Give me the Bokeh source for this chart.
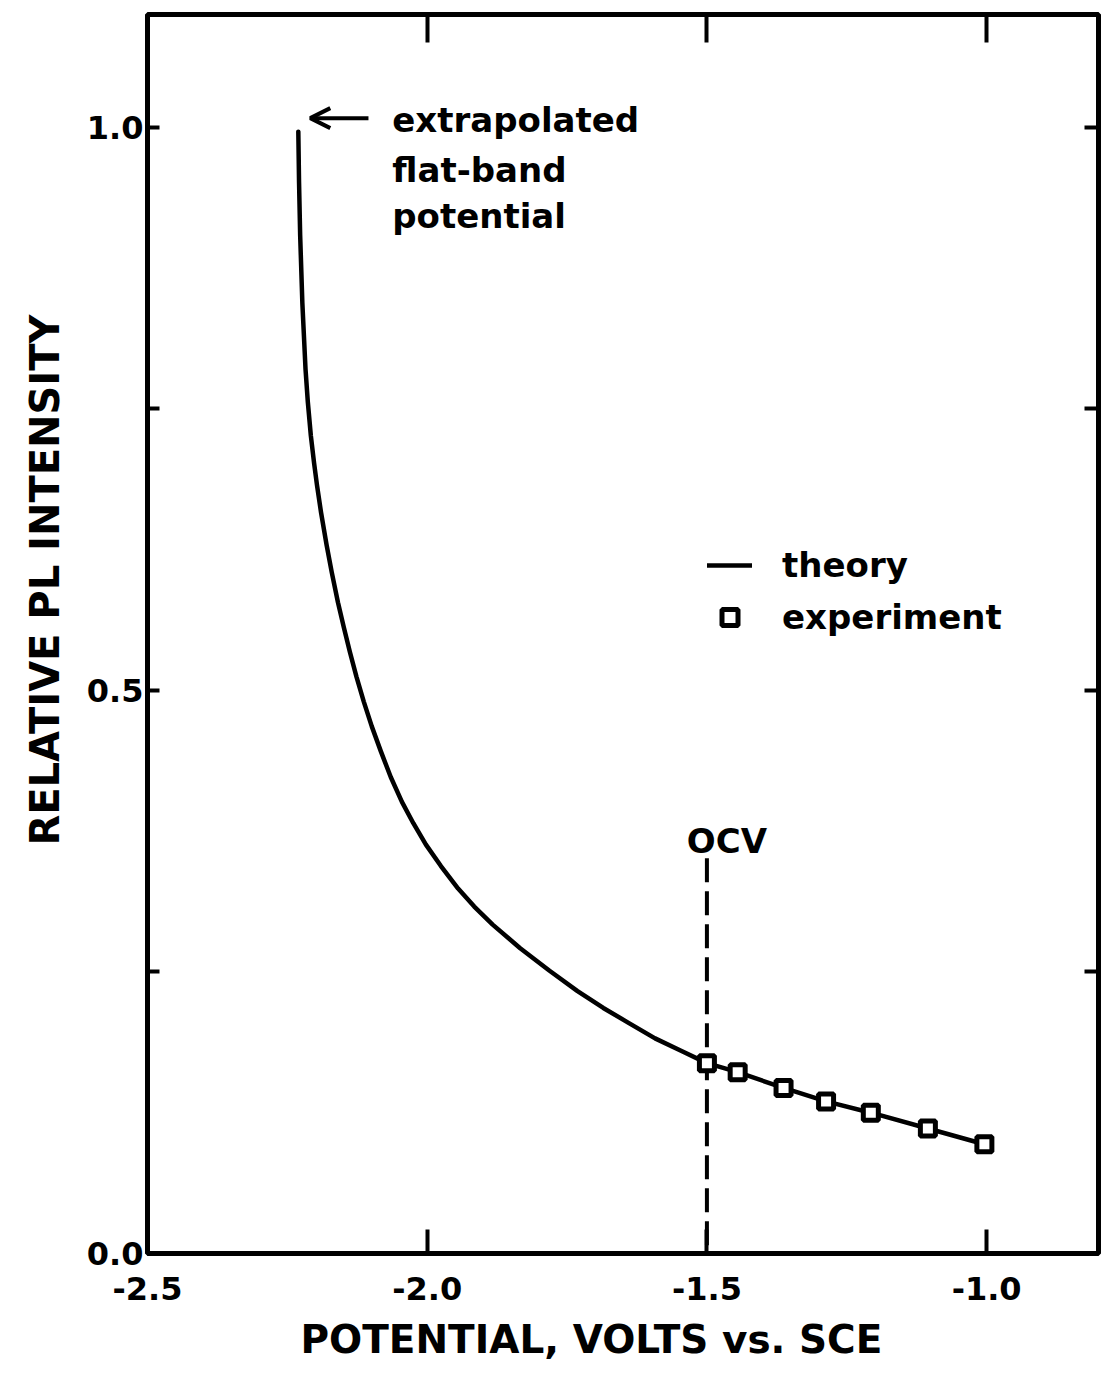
from bokeh.plotting import figure
from bokeh.models import (LinearAxis, FixedTicker, Label, Arrow, OpenHead,
                          Legend, LegendItem, Range1d, Title)
from bokeh.embed import file_html
from bokeh.resources import INLINE

# ---------------- data ----------------
theory_v = [-2.2304, -2.2291, -2.2271, -2.2232, -2.2175, -2.2134, -2.2080,
            -2.2023, -2.1970, -2.1898, -2.1798, -2.1707, -2.1595, -2.1491,
            -2.1382, -2.1264, -2.1134, -2.0991, -2.0830, -2.0652, -2.0452,
            -2.0248, -2.0023, -1.9755, -1.9448, -1.9159, -1.8830, -1.8338,
            -1.7813, -1.7313, -1.6852, -1.6409, -1.5927, -1.5463, -1.5000,
            -1.4450, -1.3630, -1.2870, -1.2070, -1.1050, -1.0040]
theory_i = [0.996, 0.951, 0.904, 0.844, 0.785, 0.756, 0.726,
            0.702, 0.682, 0.658, 0.629, 0.605, 0.578, 0.556,
            0.534, 0.512, 0.490, 0.468, 0.446, 0.423, 0.401,
            0.382, 0.363, 0.344, 0.324, 0.308, 0.292, 0.271,
            0.251, 0.233, 0.218, 0.205, 0.191, 0.180, 0.169,
            0.161, 0.147, 0.135, 0.125, 0.111, 0.097]

exp_v = [-1.500, -1.445, -1.363, -1.287, -1.207, -1.105, -1.004]
exp_i = [0.169, 0.161, 0.147, 0.135, 0.125, 0.111, 0.097]

ocv_v = -1.5
ocv_top = 0.351

x_ticks = [-2.5, -2.0, -1.5, -1.0]
x_tick_labels = ["-2.5", "-2.0", "-1.5", "-1.0"]
y_ticks = [0.0, 0.5, 1.0]
y_tick_labels = ["0.0", "0.5", "1.0"]
y_minor_ticks = [0.25, 0.75]
top_ticks = [-2.0, -1.5, -1.0]
right_ticks = [0.25, 0.5, 0.75, 1.0]

x_title = "POTENTIAL, VOLTS vs. SCE"
y_title = "RELATIVE PL INTENSITY"
note_lines = ["extrapolated", "flat-band", "potential"]

# ---------------- annotation placement (data units) ----------------
note_x = -2.0625
note_y = [1.006, 0.962, 0.921]
arrow_y = 1.008
arrow_x0, arrow_x1 = -2.105, -2.209
ocv_label_x, ocv_label_y = -1.536, 0.366

FONT = "DejaVu Sans"

p = figure(width=1102, height=1390,
           x_range=Range1d(-2.5, -0.8), y_range=Range1d(0.0, 1.1),
           output_backend="svg", toolbar_location=None,
           min_border_left=147, min_border_right=4,
           min_border_top=14, min_border_bottom=137)
p.grid.visible = False
p.outline_line_color = "black"
p.outline_line_width = 5
p.background_fill_color = "white"
p.border_fill_color = "white"


def base_axis(ax, tick_in):
    ax.major_tick_in = tick_in
    ax.major_tick_out = 0
    ax.minor_tick_in = tick_in
    ax.minor_tick_out = 0
    ax.major_tick_line_width = 4
    ax.minor_tick_line_width = 4
    ax.major_tick_line_color = "black"
    ax.minor_tick_line_color = "black"
    ax.axis_line_color = None
    ax.axis_label_standoff = 0


def label_axis(ax, ticks, labels, minor=()):
    ax.ticker = FixedTicker(ticks=ticks, minor_ticks=list(minor))
    ax.major_label_overrides = {t: l for t, l in zip(ticks, labels)}
    ax.major_label_text_font = FONT
    ax.major_label_text_font_size = "32px"
    ax.major_label_text_font_style = "bold"
    ax.major_label_text_color = "black"


xa = p.xaxis[0]
base_axis(xa, 24)
label_axis(xa, x_ticks, x_tick_labels)
xa.major_label_standoff = 23

ya = p.yaxis[0]
base_axis(ya, 12)
label_axis(ya, y_ticks, y_tick_labels, y_minor_ticks)
ya.major_label_standoff = 4

# unlabelled tick-only axes on the top and right (ticks given as minor ticks)
top = LinearAxis(ticker=FixedTicker(ticks=[], minor_ticks=top_ticks))
base_axis(top, 28)
top.major_label_standoff = 0
p.add_layout(top, "above")

right = LinearAxis(ticker=FixedTicker(ticks=[], minor_ticks=right_ticks))
base_axis(right, 14)
right.major_label_standoff = 0
p.add_layout(right, "right")

# axis titles (side-panel titles, placed like the original lettering)
p.add_layout(Title(text=x_title, align="left", offset=153, standoff=25,
                   text_font=FONT, text_font_size="39px",
                   text_font_style="bold", text_color="black"), "below")
p.add_layout(Title(text=y_title, align="left", offset=408, standoff=32,
                   text_font=FONT, text_font_size="40px",
                   text_font_style="bold", text_color="black"), "left")

# ---------------- marks ----------------
r_line = p.line(theory_v, theory_i, line_width=4.5, line_color="black",
                line_join="round", line_cap="round")
p.segment(x0=[ocv_v], y0=[ocv_top], x1=[ocv_v], y1=[0.0],
          line_width=4, line_color="black", line_dash="24 9")
r_sq = p.scatter(exp_v, exp_i, marker="square", size=15, line_width=5,
                 line_color="black", fill_color="white")

# ---------------- legend ----------------
legend = Legend(items=[LegendItem(label="theory", renderers=[r_line]),
                       LegendItem(label="experiment", renderers=[r_sq])],
                location=(560, 616), orientation="vertical",
                label_text_font=FONT, label_text_font_size="34px",
                label_text_font_style="bold", label_text_color="black",
                glyph_width=45, glyph_height=40, label_height=40,
                label_standoff=30, spacing=12, padding=0, margin=0,
                border_line_color=None, background_fill_alpha=0)
p.add_layout(legend)

# ---------------- annotations ----------------
for txt, yy in zip(note_lines, note_y):
    p.add_layout(Label(x=note_x, y=yy, text=txt, text_font=FONT,
                       text_font_size="34px", text_font_style="bold",
                       text_color="black", text_align="left",
                       text_baseline="middle"))

p.add_layout(Arrow(end=OpenHead(size=20, line_width=4, line_color="black"),
                   x_start=arrow_x0, y_start=arrow_y,
                   x_end=arrow_x1, y_end=arrow_y,
                   line_width=4, line_color="black"))

p.add_layout(Label(x=ocv_label_x, y=ocv_label_y, text="OCV", text_font=FONT,
                   text_font_size="34px", text_font_style="bold",
                   text_color="black", text_align="left",
                   text_baseline="middle"))

open("out.html", "w").write(file_html(p, INLINE))
